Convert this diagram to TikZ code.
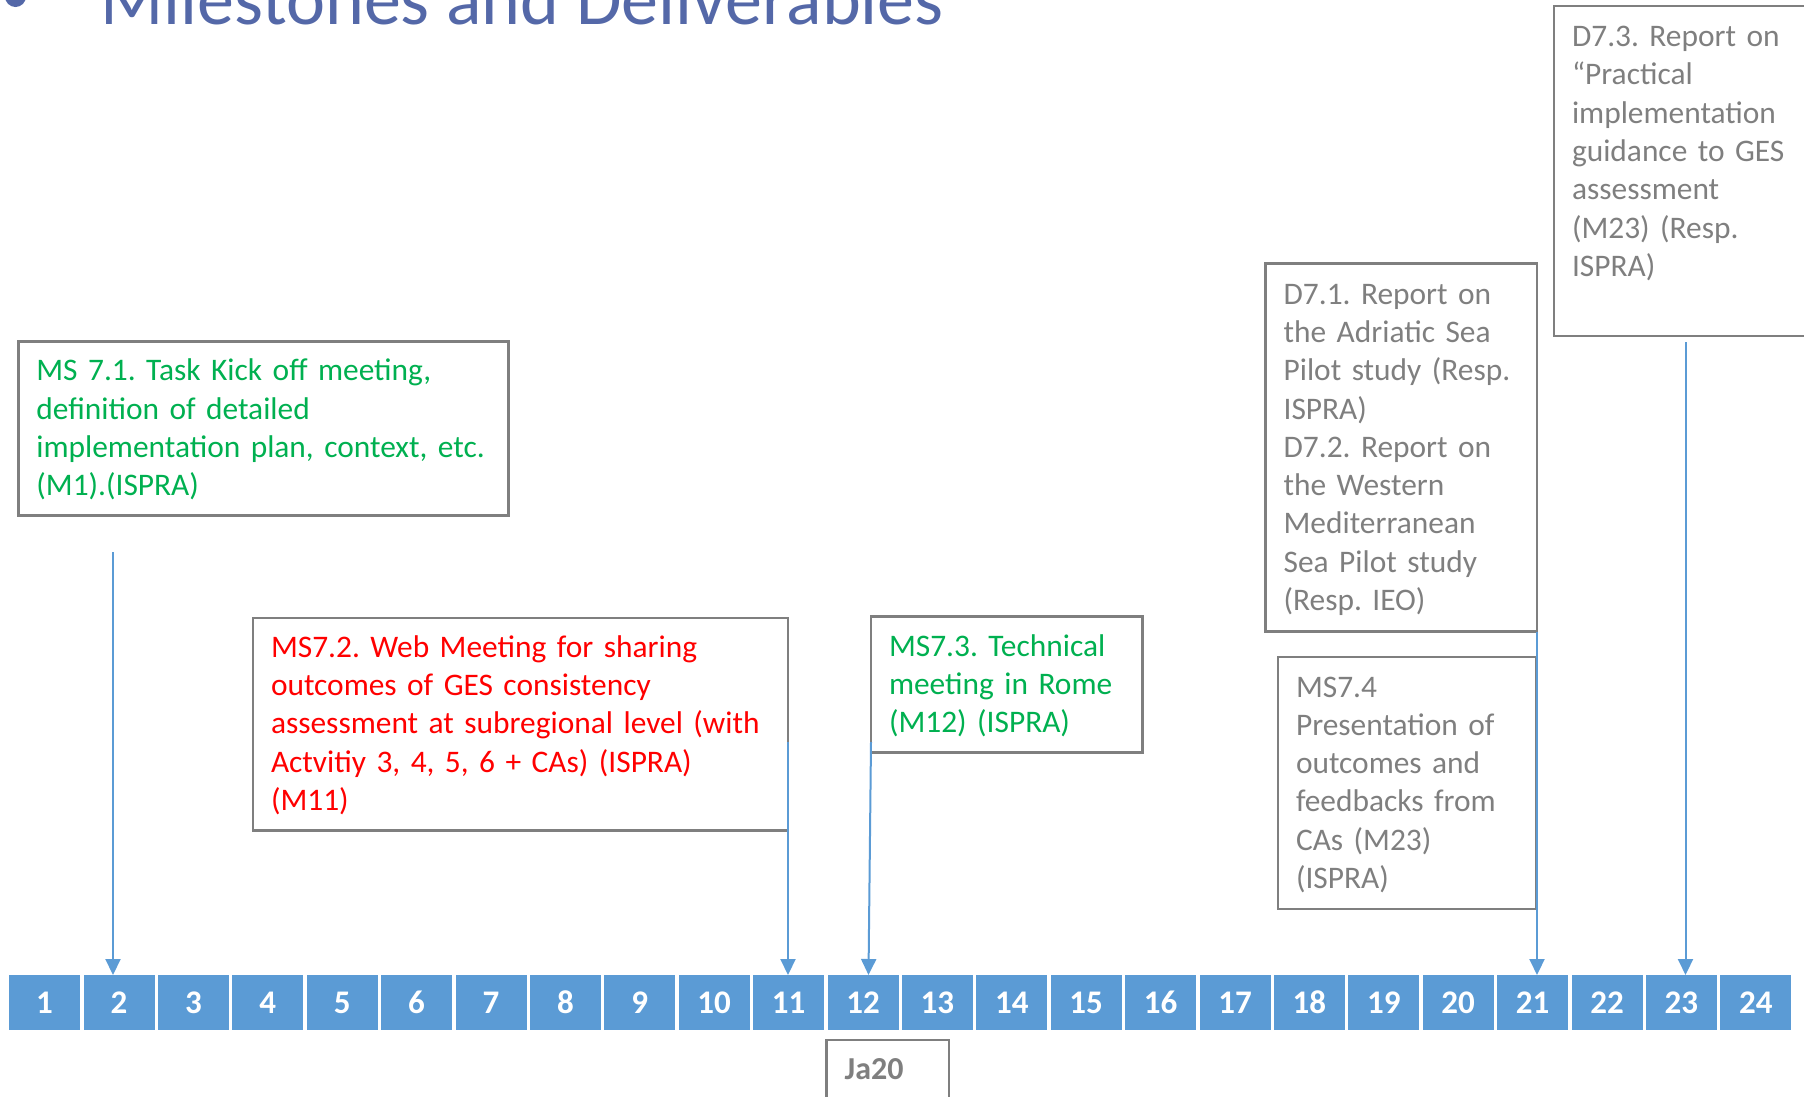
\documentclass[tikz,border=0pt]{standalone}
\usepackage{fontspec}
\setmainfont{Carlito}
\usetikzlibrary{arrows.meta}
\definecolor{cellblue}{HTML}{5B9BD5}
\definecolor{boxgray}{HTML}{7F7F7F}
\definecolor{msgreen}{HTML}{00B050}
\definecolor{msred}{HTML}{FF0000}
\definecolor{titleblue}{HTML}{5468A8}
\newcommand{\mytopstrut}{\rule{0pt}{31pt}}
\begin{document}
\frenchspacing
\begin{tikzpicture}[x=1pt,y=-1pt,
  every node/.style={inner sep=0pt, outer sep=0pt},
  infobox/.style={draw=boxgray, line width=2.5pt, anchor=north west, align=left,
    inner xsep=18pt, inner ysep=0pt, font=\fontsize{31.4}{38.3}\selectfont\frenchspacing,
    execute at begin node=\mytopstrut, execute at end node=\strut},
  cell/.style={fill=cellblue, minimum width=71pt, minimum height=55pt, text=white,
    font=\fontsize{33}{38}\selectfont\bfseries},
  link/.style={draw=cellblue, line width=2pt, -{Triangle[width=15pt,length=16pt]}},
]
\useasboundingbox (0,0) rectangle (1804,1096);

% title
\fill[titleblue] (15.5,-3.5) circle (10.5);
\node[anchor=base west, text=titleblue, font=\fontsize{74}{80}\selectfont] (title) at (100,24) {Milestones and Deliverables};

% timeline
\foreach \i in {1,...,24}
  \node[cell] (c\i) at ({44.6+(\i-1)*74.4},1002.5) {\i};

% boxes
\node[infobox, text=msgreen, minimum width=490pt, minimum height=173.7pt, text width=454pt] (ms1) at (18.4,341.7)
  {MS 7.1. Task Kick off meeting,\\ definition of detailed\\ \mbox{implementation plan, context, etc.}\\ (M1).(ISPRA)};
\node[infobox, text=msred, minimum width=535pt, minimum height=212.8pt, text width=499pt] (ms2) at (253,617.8)
  {MS7.2. Web Meeting for sharing\\ outcomes of GES consistency\\ \mbox{assessment at subregional level (with}\\ Actvitiy 3, 4, 5, 6 + CAs) (ISPRA)\\ (M11)};
\node[infobox, text=msgreen, minimum width=271.5pt, minimum height=135.7pt, text width=235.5pt] (ms3) at (871,616.7)
  {MS7.3. Technical\\ meeting in Rome\\ (M12) (ISPRA)};
\node[infobox, text=boxgray, minimum width=271.4pt, minimum height=368.1pt, text width=235.4pt] (d12) at (1265.6,263.5)
  {D7.1. Report on\\ the Adriatic Sea\\ Pilot study (Resp.\\ ISPRA)\\ D7.2. Report on\\ the Western\\ Mediterranean\\ Sea Pilot study\\ (Resp. IEO)};
\node[infobox, text=boxgray, minimum width=258pt, minimum height=252pt, text width=222pt] (ms4) at (1278,657)
  {MS7.4\\ Presentation of\\ outcomes and\\ feedbacks from\\ CAs (M23)\\ (ISPRA)};
\node[infobox, text=boxgray, minimum width=280pt, minimum height=330.2pt, text width=244pt,
  execute at begin node=\strut] (d3) at (1554,5.8)
  {D7.3. Report on\\ “Practical\\ implementation\\ guidance to GES\\ assessment\\ (M23) (Resp.\\ ISPRA)\\ \mbox{}};
\node[infobox, text=boxgray, font=\fontsize{32}{38.3}\selectfont\bfseries, minimum width=122.3pt, minimum height=60pt, text width=86.3pt,
  execute at begin node={}, execute at end node={}] (ja) at (826.7,1040) {Ja20};

% arrows
\coordinate (a1) at (113,552);
\coordinate (a2) at (788,742);
\coordinate (a3) at (871,742);
\coordinate (a5) at (1685.5,342);
\draw[link] (a1) -- (a1 |- c2.north);
\draw[link] (a2) -- (a2 |- c11.north);
\draw[link] (a3) -- ([xshift=5.5pt]c12.north);
\draw[link] (d12.south east) -- (d12.south east |- c21.north);
\draw[link] (a5) -- (a5 |- c23.north);
\end{tikzpicture}
\end{document}
